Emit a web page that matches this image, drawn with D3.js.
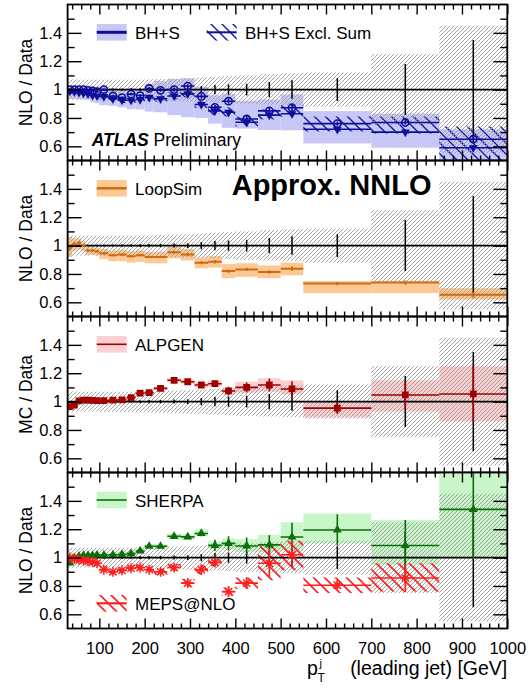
<!DOCTYPE html>
<html>
<head>
<meta charset="utf-8">
<script src="https://cdn.jsdelivr.net/npm/d3@7"></script>
<style>
  html, body { margin: 0; padding: 0; background: #fff; }
  svg { display: block; font-family: "Liberation Sans", Arial, Helvetica, sans-serif; }
</style>
</head>
<body>
<svg id="chart" width="530" height="694"></svg>
<script>
// ---- binning of the leading-jet pT distribution [GeV] ----
const binEdges = [30, 40, 50, 60, 70, 80, 90, 100, 120, 140, 160, 180, 200, 220, 250, 280, 310, 340, 370, 400, 450, 500, 550, 700, 850, 1000];

// ---- data uncertainties (ratio units) ----
const dataStat  = [0.004, 0.004, 0.004, 0.005, 0.005, 0.005, 0.006, 0.006, 0.007, 0.008, 0.009, 0.010, 0.011, 0.012, 0.014, 0.017, 0.026, 0.032, 0.036, 0.042, 0.054, 0.065, 0.080, 0.180, 0.350];
const dataSysUp = [0.075, 0.072, 0.070, 0.070, 0.070, 0.070, 0.070, 0.070, 0.070, 0.070, 0.070, 0.070, 0.072, 0.075, 0.078, 0.080, 0.085, 0.090, 0.095, 0.100, 0.110, 0.115, 0.120, 0.250, 0.450];
const dataSysDn = [0.075, 0.072, 0.070, 0.070, 0.070, 0.070, 0.070, 0.072, 0.074, 0.075, 0.075, 0.076, 0.078, 0.080, 0.082, 0.085, 0.088, 0.090, 0.095, 0.100, 0.105, 0.110, 0.120, 0.250, 0.450];

// ---- BlackHat+Sherpa NLO ----
const bhs      = [1.000, 1.000, 1.000, 1.000, 0.995, 0.990, 0.985, 1.000, 0.955, 0.943, 0.968, 0.958, 1.008, 0.995, 1.000, 1.025, 0.952, 0.875, 0.918, 0.793, 0.850, 0.872, 0.760, 0.768, 0.650];
const bhsErr   = [0.008, 0.006, 0.006, 0.006, 0.006, 0.006, 0.006, 0.007, 0.008, 0.008, 0.009, 0.010, 0.010, 0.011, 0.012, 0.013, 0.015, 0.016, 0.018, 0.020, 0.020, 0.020, 0.015, 0.015, 0.020];
const bhsLo    = [0.935, 0.933, 0.930, 0.930, 0.930, 0.910, 0.905, 0.890, 0.885, 0.875, 0.862, 0.860, 0.845, 0.840, 0.820, 0.805, 0.800, 0.760, 0.730, 0.725, 0.715, 0.713, 0.620, 0.590, 0.450];
const bhsHi    = [1.025, 1.025, 1.020, 1.020, 1.020, 1.020, 1.020, 1.020, 1.010, 1.000, 1.010, 1.000, 1.040, 1.060, 1.075, 1.080, 1.020, 0.960, 0.970, 0.920, 0.930, 0.965, 0.848, 0.830, 0.720];

// ---- BlackHat+Sherpa exclusive sum ----
const bhsExcl   = [0.990, 0.985, 0.980, 0.975, 0.970, 0.960, 0.955, 0.950, 0.935, 0.925, 0.925, 0.930, 0.945, 0.935, 0.955, 0.970, 0.895, 0.850, 0.840, 0.770, 0.820, 0.830, 0.720, 0.700, 0.590];
const bhsExclErr= [0.008, 0.006, 0.006, 0.006, 0.006, 0.006, 0.006, 0.007, 0.008, 0.008, 0.009, 0.010, 0.010, 0.011, 0.012, 0.013, 0.015, 0.016, 0.018, 0.020, 0.020, 0.020, 0.015, 0.015, 0.020];
const bhsExclLo = [0.975, 0.970, 0.965, 0.960, 0.955, 0.945, 0.940, 0.930, 0.915, 0.905, 0.905, 0.910, 0.925, 0.915, 0.930, 0.945, 0.870, 0.820, 0.810, 0.740, 0.790, 0.810, 0.705, 0.690, 0.500];
const bhsExclHi = [1.005, 1.000, 0.995, 0.990, 0.985, 0.975, 0.970, 0.970, 0.955, 0.945, 0.945, 0.950, 0.965, 0.960, 0.980, 0.995, 0.925, 0.885, 0.875, 0.810, 0.860, 0.890, 0.810, 0.810, 0.740];

// ---- LoopSim approximate NNLO ----
const loopSim   = [0.985, 1.010, 1.020, 1.000, 0.965, 0.965, 0.960, 0.946, 0.932, 0.937, 0.925, 0.932, 0.920, 0.920, 0.953, 0.937, 0.879, 0.886, 0.820, 0.832, 0.814, 0.837, 0.732, 0.739, 0.653];
const loopSimErr= [0.020, 0.015, 0.010, 0.008, 0.008, 0.008, 0.008, 0.008, 0.008, 0.008, 0.008, 0.008, 0.008, 0.008, 0.010, 0.010, 0.010, 0.012, 0.012, 0.012, 0.012, 0.015, 0.012, 0.015, 0.020];
const loopSimLo = [0.920, 0.960, 0.975, 0.960, 0.935, 0.935, 0.930, 0.905, 0.890, 0.890, 0.880, 0.885, 0.875, 0.875, 0.910, 0.895, 0.840, 0.845, 0.770, 0.780, 0.770, 0.790, 0.665, 0.665, 0.620];
const loopSimHi = [1.060, 1.050, 1.050, 1.030, 0.990, 0.990, 0.985, 0.975, 0.965, 0.970, 0.960, 0.965, 0.955, 0.955, 0.990, 0.975, 0.915, 0.925, 0.870, 0.875, 0.860, 0.880, 0.750, 0.750, 0.700];

// ---- ALPGEN ----
const alpgen    = [0.965, 0.975, 1.005, 1.010, 1.010, 1.008, 1.007, 1.007, 1.010, 1.012, 1.028, 1.059, 1.063, 1.093, 1.150, 1.140, 1.117, 1.126, 1.075, 1.100, 1.117, 1.089, 0.954, 1.047, 1.054];
const alpgenErr = [0.010, 0.006, 0.005, 0.005, 0.005, 0.005, 0.005, 0.006, 0.006, 0.007, 0.008, 0.009, 0.010, 0.010, 0.012, 0.014, 0.018, 0.022, 0.030, 0.035, 0.045, 0.055, 0.040, 0.100, 0.200];
const alpgenLo  = [0.955, 0.967, 0.997, 1.002, 1.002, 1.000, 0.999, 0.998, 1.000, 1.002, 1.017, 1.047, 1.050, 1.080, 1.135, 1.124, 1.098, 1.104, 1.050, 1.060, 1.070, 1.050, 0.890, 0.930, 0.860];
const alpgenHi  = [0.975, 0.983, 1.013, 1.018, 1.018, 1.016, 1.015, 1.016, 1.020, 1.022, 1.039, 1.071, 1.076, 1.106, 1.165, 1.156, 1.136, 1.148, 1.100, 1.140, 1.165, 1.150, 1.000, 1.150, 1.250];

// ---- SHERPA ----
const sherpa    = [0.962, 1.000, 1.010, 1.015, 1.015, 1.015, 1.018, 1.018, 1.020, 1.022, 1.028, 1.047, 1.080, 1.080, 1.150, 1.146, 1.170, 1.086, 1.100, 1.082, 1.090, 1.145, 1.195, 1.085, 1.340];
const sherpaErr = [0.010, 0.006, 0.005, 0.005, 0.005, 0.005, 0.006, 0.006, 0.006, 0.007, 0.008, 0.009, 0.010, 0.010, 0.012, 0.014, 0.020, 0.040, 0.050, 0.060, 0.070, 0.100, 0.110, 0.180, 0.350];
const sherpaLo  = [0.940, 0.985, 0.995, 1.000, 1.000, 1.000, 1.000, 1.000, 1.005, 1.005, 1.010, 1.030, 1.065, 1.065, 1.130, 1.125, 1.150, 1.060, 1.060, 1.040, 1.040, 1.050, 1.100, 0.950, 1.000];
const sherpaHi  = [0.985, 1.015, 1.025, 1.030, 1.030, 1.030, 1.035, 1.035, 1.035, 1.040, 1.045, 1.065, 1.095, 1.095, 1.170, 1.165, 1.200, 1.115, 1.135, 1.130, 1.160, 1.250, 1.310, 1.265, 1.650];

// ---- MEPS@NLO (no prediction in the last bin) ----
const meps      = [1.000, 0.990, 0.985, 0.980, 0.975, 0.970, 0.960, 0.915, 0.900, 0.910, 0.925, 0.930, 0.915, 0.900, 0.930, 0.820, 0.915, 0.965, 0.760, 0.820, 0.960, 1.020, 0.805, 0.856, null];
const mepsErr   = [0.020, 0.010, 0.010, 0.010, 0.010, 0.010, 0.010, 0.012, 0.012, 0.012, 0.013, 0.014, 0.015, 0.016, 0.020, 0.025, 0.035, 0.030, 0.040, 0.040, 0.100, 0.090, 0.030, 0.100, null];
const mepsLo    = [0.980, 0.975, 0.970, 0.965, 0.960, 0.955, 0.945, 0.895, 0.880, 0.890, 0.905, 0.910, 0.895, 0.878, 0.905, 0.790, 0.880, 0.940, 0.730, 0.780, 0.840, 0.910, 0.750, 0.760, null];
const mepsHi    = [1.020, 1.005, 1.000, 0.995, 0.990, 0.985, 0.975, 0.935, 0.920, 0.930, 0.945, 0.950, 0.935, 0.922, 0.955, 0.850, 0.950, 0.990, 0.790, 0.860, 1.080, 1.120, 0.860, 0.960, null];

// ---- axis ticks ----
const yTickVals   = [0.6, 0.8, 1.0, 1.2, 1.4];
const yTickLabels = ["0.6", "0.8", "1", "1.2", "1.4"];
const yMinorVals  = [0.7, 0.9, 1.1, 1.3, 1.5];
const xTickVals   = [100, 200, 300, 400, 500, 600, 700, 800, 900, 1000];
const xTickLabels = ["100", "200", "300", "400", "500", "600", "700", "800", "900", "1000"];

// ---------------------------------------------------------------
const svg = d3.select("#chart");
svg.append("rect").attr("width", 530).attr("height", 694).attr("fill", "#fff");
const defs = svg.append("defs");

const x = d3.scaleLinear().domain([30, 1000]).range([67.6, 507.3]);
const panelTops = [4.5, 160.5, 316.5, 472.5];
const panelH = 156;
const yDomain = [0.5, 1.6];
const centers = binEdges.slice(0, -1).map((e, i) => (e + binEdges[i + 1]) / 2);
const idx = d3.range(centers.length);
const xMinorVals = d3.range(40, 1000, 20).filter(v => v % 100 !== 0);

// diagonal hatch patterns
function hatch(id, color, size, width, dir) {
  const s = size;
  const d = dir === "/"
    ? `M0,${s}L${s},0M-1,1L1,-1M${s - 1},${s + 1}L${s + 1},${s - 1}`
    : `M0,0L${s},${s}M${s - 1},-1L${s + 1},1M-1,${s - 1}L1,${s + 1}`;
  defs.append("pattern").attr("id", id)
    .attr("patternUnits", "userSpaceOnUse")
    .attr("width", s).attr("height", s)
    .append("path").attr("d", d)
    .attr("stroke", color).attr("stroke-width", width).attr("fill", "none");
}
hatch("hatchData", "#9a9a9a", 4, 0.9, "/");
hatch("hatchExcl", "#1515a8", 11, 1.4, "\\");
hatch("hatchMeps", "#ff2020", 11, 1.6, "\\");

const C = {
  blue: "#0e0e9a", blueBand: "#c8c8f8",
  orange: "#cf6a12", orangeBand: "#fcc994",
  dred: "#a00000", pinkBand: "rgba(250,170,170,0.55)",
  green: "#0b6e0b", greenBand: "#c8f6c8",
  red: "#ff1e1e"
};

// ---- series definitions per panel ----
const panels = [
  {
    title: "NLO / Data",
    series: [
      { v: bhs, e: bhsErr, lo: bhsLo, hi: bhsHi, color: C.blue, band: C.blueBand, marker: "openCircle" },
      { v: bhsExcl, e: bhsExclErr, lo: bhsExclLo, hi: bhsExclHi, color: C.blue, band: "url(#hatchExcl)", marker: "triDown" }
    ],
    legend: [
      { x: 96.7, dy: 27.8, fill: C.blueBand, line: C.blue, lw: 3, label: "BH+S" },
      { x: 206.7, dy: 27.8, fill: "url(#hatchExcl)", line: C.blue, lw: 2, label: "BH+S Excl. Sum" }
    ]
  },
  {
    title: "NLO / Data",
    series: [
      { v: loopSim, e: loopSimErr, lo: loopSimLo, hi: loopSimHi, color: C.orange, band: C.orangeBand, marker: null, lw: 2 }
    ],
    legend: [
      { x: 96.7, dy: 27.8, fill: C.orangeBand, line: C.orange, lw: 2.5, label: "LoopSim" }
    ]
  },
  {
    title: "MC / Data",
    series: [
      { v: alpgen, e: alpgenErr, lo: alpgenLo, hi: alpgenHi, color: C.dred, band: C.pinkBand, marker: "square" }
    ],
    legend: [
      { x: 96.7, dy: 27.8, fill: C.pinkBand, line: C.dred, lw: 1.6, label: "ALPGEN" }
    ]
  },
  {
    title: "NLO / Data",
    series: [
      { v: sherpa, e: sherpaErr, lo: sherpaLo, hi: sherpaHi, color: C.green, band: C.greenBand, marker: "triUp" },
      { v: meps, e: mepsErr, lo: mepsLo, hi: mepsHi, color: C.red, band: "url(#hatchMeps)", marker: "star", bandOver: true }
    ],
    legend: [
      { x: 96.7, dy: 27.5, fill: C.greenBand, line: C.green, lw: 1.6, label: "SHERPA" },
      { x: 96.7, dy: 130.8, fill: "url(#hatchMeps)", line: C.red, lw: 2.2, label: "MEPS@NLO" }
    ]
  }
];

function drawMarker(g, kind, cx, cy, color) {
  if (kind === "openCircle") {
    g.append("circle").attr("cx", cx).attr("cy", cy).attr("r", 3.6)
      .attr("fill", "none").attr("stroke", color).attr("stroke-width", 1.6);
  } else if (kind === "triDown") {
    g.append("path").attr("d", d3.symbol(d3.symbolTriangle, 34)())
      .attr("transform", `translate(${cx},${cy}) rotate(180)`).attr("fill", color);
  } else if (kind === "triUp") {
    g.append("path").attr("d", d3.symbol(d3.symbolTriangle, 34)())
      .attr("transform", `translate(${cx},${cy})`).attr("fill", color);
  } else if (kind === "square") {
    g.append("path").attr("d", d3.symbol(d3.symbolSquare, 46)())
      .attr("transform", `translate(${cx},${cy})`).attr("fill", color);
  } else if (kind === "star") {
    g.append("path").attr("d", "M-5,0H5M0,-5V5M-3.6,-3.6L3.6,3.6M-3.6,3.6L3.6,-3.6")
      .attr("transform", `translate(${cx},${cy})`)
      .attr("stroke", color).attr("stroke-width", 1.5).attr("fill", "none");
  }
}

panels.forEach((p, k) => {
  const top = panelTops[k], bot = top + panelH;
  const y = d3.scaleLinear().domain(yDomain).range([bot, top]);
  const x0 = x.range()[0], x1 = x.range()[1];

  defs.append("clipPath").attr("id", "clip" + k)
    .append("rect").attr("x", x0).attr("y", top).attr("width", x1 - x0).attr("height", panelH);
  const plot = svg.append("g").attr("clip-path", `url(#clip${k})`);

  const bandRects = (g, s) => g.append("g").selectAll("rect")
    .data(idx.filter(i => s.lo[i] != null)).join("rect")
    .attr("x", i => x(binEdges[i])).attr("width", i => x(binEdges[i + 1]) - x(binEdges[i]))
    .attr("y", i => y(s.hi[i])).attr("height", i => y(s.lo[i]) - y(s.hi[i]))
    .attr("fill", s.band);

  // model uncertainty bands
  p.series.filter(s => !s.bandOver).forEach(s => bandRects(plot, s));

  // data systematic band
  plot.append("g").selectAll("rect").data(idx).join("rect")
    .attr("x", i => x(binEdges[i])).attr("width", i => x(binEdges[i + 1]) - x(binEdges[i]))
    .attr("y", i => y(1 + dataSysUp[i])).attr("height", i => y(1 - dataSysDn[i]) - y(1 + dataSysUp[i]))
    .attr("fill", "url(#hatchData)");

  p.series.filter(s => s.bandOver).forEach(s => bandRects(plot, s));

  // unity line and data statistical errors
  plot.append("line").attr("x1", x0).attr("x2", x1).attr("y1", y(1)).attr("y2", y(1))
    .attr("stroke", "#000").attr("stroke-width", 1.7);
  plot.append("g").selectAll("line").data(idx).join("line")
    .attr("x1", i => x(centers[i])).attr("x2", i => x(centers[i]))
    .attr("y1", i => y(1 + dataStat[i])).attr("y2", i => y(1 - dataStat[i]))
    .attr("stroke", "#000").attr("stroke-width", 1.5);

  // predictions: bin-width bars, error bars, markers
  p.series.forEach(s => {
    const g = plot.append("g");
    const ok = idx.filter(i => s.v[i] != null);
    const lw = s.lw || 1.6;
    g.selectAll("line.h").data(ok).join("line").attr("class", "h")
      .attr("x1", i => x(binEdges[i])).attr("x2", i => x(binEdges[i + 1]))
      .attr("y1", i => y(s.v[i])).attr("y2", i => y(s.v[i]))
      .attr("stroke", s.color).attr("stroke-width", lw);
    g.selectAll("line.v").data(ok).join("line").attr("class", "v")
      .attr("x1", i => x(centers[i])).attr("x2", i => x(centers[i]))
      .attr("y1", i => y(s.v[i] - s.e[i])).attr("y2", i => y(s.v[i] + s.e[i]))
      .attr("stroke", s.color).attr("stroke-width", lw);
    if (s.marker) ok.forEach(i => drawMarker(g, s.marker, x(centers[i]), y(s.v[i]), s.color));
  });

  // frame ticks on all four sides, pointing inward
  const styleAxis = g => { g.select(".domain").remove(); g.selectAll(".tick line").attr("stroke", "#000").attr("stroke-width", 1.4); };
  const yLab = d3.axisLeft(y).tickValues(yTickVals).tickSize(-14).tickSizeOuter(0).tickPadding(5.5)
    .tickFormat((d, i) => yTickLabels[i]);
  svg.append("g").attr("transform", `translate(${x0},0)`).call(yLab).call(styleAxis)
    .call(g => g.selectAll("text").attr("font-size", 16.5).attr("fill", "#000")
      .attr("font-family", '"Liberation Sans", Arial, sans-serif'));
  svg.append("g").attr("transform", `translate(${x0},0)`)
    .call(d3.axisLeft(y).tickValues(yMinorVals).tickSize(-7).tickSizeOuter(0).tickFormat("")).call(styleAxis);
  svg.append("g").attr("transform", `translate(${x1},0)`)
    .call(d3.axisRight(y).tickValues(yTickVals).tickSize(-14).tickSizeOuter(0).tickFormat("")).call(styleAxis);
  svg.append("g").attr("transform", `translate(${x1},0)`)
    .call(d3.axisRight(y).tickValues(yMinorVals).tickSize(-7).tickSizeOuter(0).tickFormat("")).call(styleAxis);
  svg.append("g").attr("transform", `translate(0,${top})`)
    .call(d3.axisTop(x).tickValues(xTickVals).tickSize(-10).tickSizeOuter(0).tickFormat("")).call(styleAxis);
  svg.append("g").attr("transform", `translate(0,${top})`)
    .call(d3.axisTop(x).tickValues(xMinorVals).tickSize(-5).tickSizeOuter(0).tickFormat("")).call(styleAxis);
  const xb = d3.axisBottom(x).tickValues(xTickVals).tickSize(-10).tickSizeOuter(0).tickPadding(13.5)
    .tickFormat((d, i) => k === panels.length - 1 ? xTickLabels[i] : "");
  svg.append("g").attr("transform", `translate(0,${bot})`).call(xb).call(styleAxis)
    .call(g => g.selectAll("text").attr("font-size", 16.5).attr("fill", "#000")
      .attr("font-family", '"Liberation Sans", Arial, sans-serif'));
  svg.append("g").attr("transform", `translate(0,${bot})`)
    .call(d3.axisBottom(x).tickValues(xMinorVals).tickSize(-5).tickSizeOuter(0).tickFormat("")).call(styleAxis);

  svg.append("rect").attr("x", x0).attr("y", top).attr("width", x1 - x0).attr("height", panelH)
    .attr("fill", "none").attr("stroke", "#000").attr("stroke-width", 1.8);

  // y-axis title
  svg.append("text").attr("transform", `translate(31.5,${top + panelH / 2}) rotate(-90)`)
    .attr("text-anchor", "middle").attr("font-size", 17.5).text(p.title);

  // legend entries
  p.legend.forEach(L => {
    const cy = top + L.dy;
    svg.append("rect").attr("x", L.x).attr("y", cy - 8.3).attr("width", 30).attr("height", 16.6).attr("fill", L.fill);
    svg.append("line").attr("x1", L.x).attr("x2", L.x + 30).attr("y1", cy).attr("y2", cy)
      .attr("stroke", L.line).attr("stroke-width", L.lw);
    svg.append("text").attr("x", L.x + 38.3).attr("y", cy + 6.5).attr("font-size", 17).text(L.label);
  });
});

// annotations
const atl = svg.append("text").attr("x", 91.7).attr("y", 146).attr("font-size", 17.5);
atl.append("tspan").attr("font-weight", "bold").attr("font-style", "italic").text("ATLAS");
atl.append("tspan").text(" Preliminary");

svg.append("text").attr("x", 231.7).attr("y", 195).attr("font-size", 29).attr("font-weight", "bold")
  .text("Approx. NNLO");

// x-axis title: p_T^j (leading jet) [GeV]
svg.append("text").attr("x", 507.3).attr("y", 675).attr("text-anchor", "end").attr("font-size", 19.5)
  .text("(leading jet) [GeV]");
svg.append("text").attr("x", 307).attr("y", 675).attr("font-size", 19.5).text("p");
svg.append("text").attr("x", 319.5).attr("y", 667).attr("font-size", 11).text("j");
svg.append("text").attr("x", 317.5).attr("y", 682).attr("font-size", 12).text("T");
</script>
</body>
</html>
